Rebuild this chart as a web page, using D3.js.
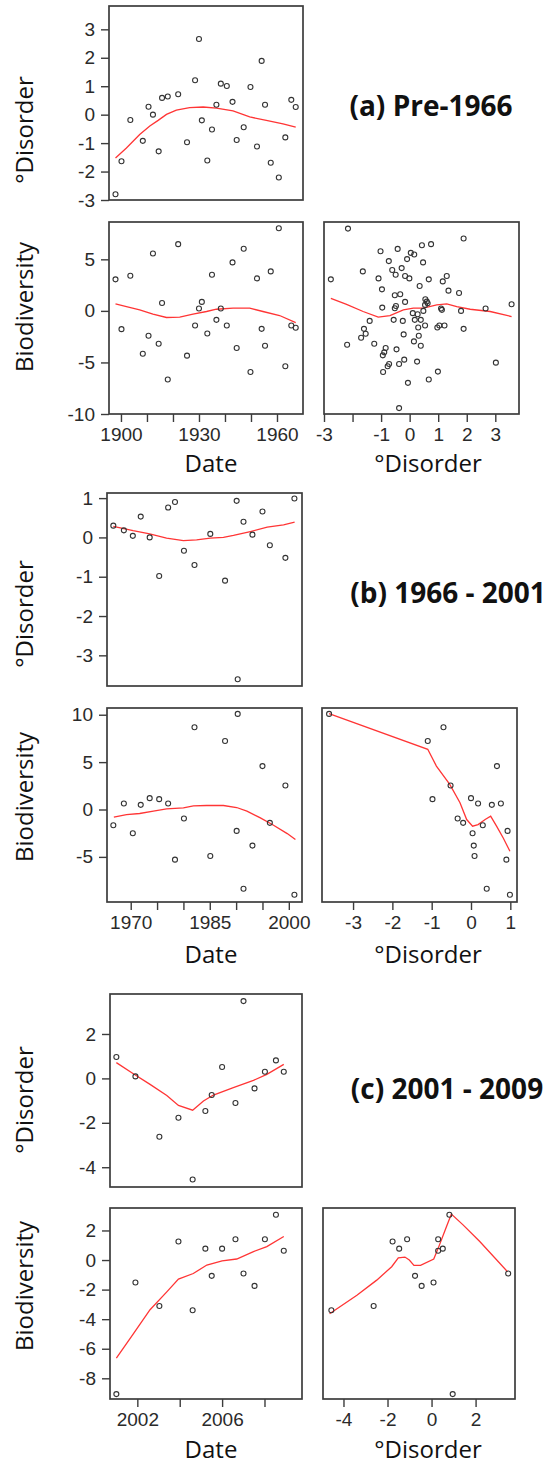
<!DOCTYPE html>
<html>
<head>
<meta charset="utf-8">
<script src="https://cdn.jsdelivr.net/npm/d3@7"></script>
<style>
body { margin: 0; background: #fff; }
svg { display: block; }
.tick text { font-family: "Liberation Sans", Arial, sans-serif; font-size: 19px; fill: #2a2a2a; }
.tick line { stroke: #3c3c3c; stroke-width: 1.4; }
.box { fill: none; stroke: #3c3c3c; stroke-width: 1.7; }
.pt { fill: none; stroke: #333; stroke-width: 1.1; }
.loess { fill: none; stroke: #ff3535; stroke-width: 1.3; }
.alab { font-family: "Open Sans", sans-serif; font-size: 24px; fill: #111; }
.title { font-family: "Open Sans", sans-serif; font-weight: bold; font-size: 28px; fill: #111; }
</style>
</head>
<body>
<div id="chart"></div>
<script>
// (a) Pre-1966
var datesA = [1897.9, 1900.2, 1903.6, 1908.4, 1910.6, 1912.3, 1914.5, 1915.8, 1918.0, 1922.0, 1925.4, 1928.5, 1930.0, 1931.1, 1933.2, 1935.0, 1936.7, 1938.4, 1940.7, 1942.9, 1944.5, 1947.2, 1949.8, 1952.3, 1954.1, 1955.4, 1957.6, 1960.7, 1963.2, 1965.5, 1967.2];
var disorderA = [-2.80, -1.64, -0.19, -0.92, 0.28, 0.00, -1.29, 0.59, 0.64, 0.72, -0.97, 1.21, 2.66, -0.20, -1.61, -0.52, 0.35, 1.09, 1.01, 0.45, -0.89, -0.44, 0.97, -1.12, 1.89, 0.35, -1.69, -2.21, -0.80, 0.52, 0.27];
var bioA = [3.06, -1.77, 3.41, -4.15, -2.41, 5.57, -3.19, 0.77, -6.66, 6.47, -4.34, -1.42, 0.23, 0.87, -2.19, 3.51, -0.87, 0.23, -1.42, 4.70, -3.60, 6.02, -5.92, 3.15, -1.74, -3.38, 3.83, 8.01, -5.37, -1.42, -1.64];
var disorderA2 = [-2.16, -2.76, -2.19, -1.02, -0.42, -0.73, -1.64, -0.61, -0.49, -0.28,
  -1.09, -0.16, -0.01, -0.09, 0.04, 0.16, 0.43, 0.75, 0.47, 1.89,
  0.67, 0.35, 1.16, 1.30, 1.36, 1.73, -0.97, -0.52, -0.33, -0.16,
  -0.96, -0.48, -0.52, -1.40, -0.56, -0.24, 0.11, 0.28, 0.18, 0.39,
  0.30, 0.54, 0.48, 0.55, 0.60, 0.63, 0.54, 1.10, 1.13, 1.80,
  2.66, 3.57, -1.60, -1.54, -1.70, -1.24, -0.21, 0.32, 0.15, 0.39,
  -0.84, -0.89, -0.94, -0.46, -0.19, -0.37, -0.72, -0.77, -0.93, 0.26,
  0.99, 0.67, -0.06, -0.37, 0.97, 1.04, 1.22, 1.89, 3.02];
var bioA2 = [7.98, 3.06, -3.28, 5.79, 6.01, 4.83, 3.83, 3.96, 3.50, 4.15,
  3.15, 3.38, 3.15, 5.02, 5.63, 5.47, 6.37, 6.47, 4.70, 7.02,
  3.06, 2.41, 2.86, 3.38, 1.96, 1.74, 2.09, 1.51, 1.61, 0.87,
  0.32, 0.48, 0.26, -0.97, -0.87, -0.97, -0.22, -0.32, -0.87, -0.87,
  -1.61, -1.42, 0.00, 1.13, 0.90, 0.74, 0.58, 0.23, 0.10, 0.00,
  0.23, 0.64, -1.74, -2.22, -2.61, -3.19, -2.28, -2.41, -2.96, -3.38,
  -3.60, -4.02, -4.31, -3.73, -4.73, -5.15, -5.15, -5.37, -5.92, -4.92,
  -5.89, -6.66, -6.98, -9.43, -1.61, -1.42, -1.42, -1.74, -5.02];
var loessA1 = [[1897.9, -1.52], [1902.1, -1.17], [1907.2, -0.70], [1911.1, -0.40], [1914.3, -0.20], [1917.5, 0.01], [1921.3, 0.16], [1926.4, 0.25], [1931.6, 0.27], [1936.7, 0.23], [1943.1, 0.13], [1949.5, -0.08], [1955.9, -0.20], [1962.3, -0.32], [1967.2, -0.44]];
var loessA2 = [[1897.9, 0.68], [1902.1, 0.42], [1907.2, 0.10], [1912.3, -0.32], [1917.5, -0.64], [1922.6, -0.61], [1927.7, -0.32], [1932.9, -0.06], [1936.7, 0.16], [1943.1, 0.26], [1949.5, 0.26], [1954.6, -0.06], [1961.0, -0.45], [1967.2, -1.13]];
var loessA3 = [[-2.76, 1.22], [-2.21, 0.64], [-1.63, -0.06], [-1.10, -0.61], [-0.69, -0.45], [-0.22, 0.10], [0.13, 0.26], [0.48, 0.26], [0.95, 0.58], [1.30, 0.68], [1.65, 0.42], [2.12, 0.16], [2.82, -0.06], [3.57, -0.55]];

// (b) 1966 - 2001
var datesB = [1966.7, 1968.7, 1970.4, 1971.9, 1973.6, 1975.4, 1977.1, 1978.4, 1980.1, 1982.1, 1985.1, 1987.9, 1990.1, 1990.3, 1991.4, 1993.1, 1995.0, 1996.4, 1999.35, 2001.06];
var disorderB = [0.30, 0.18, 0.04, 0.53, 0.00, -0.98, 0.76, 0.90, -0.34, -0.70, 0.09, -1.10, 0.93, -3.61, 0.40, 0.07, 0.66, -0.20, -0.52, 0.99];
var bioB = [-1.66, 0.63, -2.51, 0.49, 1.20, 1.09, 0.63, -5.29, -0.95, 8.68, -4.90, 7.23, -2.26, 10.09, -8.36, -3.81, 4.58, -1.41, 2.54, -8.99];
var loessB1 = [[1966.7, 0.28], [1970.45, 0.17], [1973.6, 0.09], [1976.8, -0.02], [1980.0, -0.08], [1982.5, -0.06], [1985.1, -0.02], [1987.6, 0.0], [1989.5, 0.05], [1992.7, 0.15], [1995.9, 0.26], [1999.0, 0.32], [2001.1, 0.39]];
var loessB2 = [[1966.8, -0.81], [1969.2, -0.53], [1971.7, -0.42], [1974.3, -0.18], [1976.8, 0.07], [1980.0, 0.18], [1981.9, 0.39], [1984.4, 0.42], [1987.6, 0.42], [1990.1, 0.21], [1992.05, -0.18], [1994.6, -0.88], [1997.1, -1.66], [1999.7, -2.54], [2001.25, -3.17]];
var loessB3 = [[-3.61, 10.12], [-1.10, 6.35], [-0.88, 4.58], [-0.54, 2.65], [-0.28, 0.71], [-0.11, -1.06], [0.04, -1.76], [0.18, -1.59], [0.36, -1.06], [0.50, -0.71], [0.65, -1.76], [0.82, -3.0], [0.99, -4.41]];

// (c) 2001 - 2009
var datesC = [2001.01, 2001.91, 2003.04, 2003.94, 2004.61, 2005.21, 2005.51, 2006.00, 2006.63, 2007.01, 2007.53, 2008.02, 2008.54, 2008.91];
var disorderC = [0.96, 0.09, -2.63, -1.77, -4.55, -1.47, -0.75, 0.51, -1.11, 3.48, -0.45, 0.30, 0.81, 0.30];
var bioC = [-9.07, -1.52, -3.11, 1.25, -3.40, 0.77, -1.07, 0.77, 1.41, -0.91, -1.75, 1.41, 3.06, 0.63];
var loessC1 = [[2001.01, 0.71], [2001.81, 0.21], [2002.60, -0.27], [2003.39, -0.77], [2003.94, -1.22], [2004.61, -1.43], [2005.12, -1.02], [2005.59, -0.75], [2006.53, -0.42], [2007.48, -0.09], [2008.11, 0.18], [2008.91, 0.63]];
var loessC2 = [[2001.01, -6.64], [2001.81, -4.99], [2002.60, -3.36], [2003.39, -2.15], [2003.94, -1.29], [2004.64, -0.91], [2005.28, -0.34], [2006.0, -0.05], [2006.69, 0.07], [2007.48, 0.57], [2008.11, 0.91], [2008.91, 1.59]];
var loessC3 = [[-4.63, -3.63], [-3.39, -2.38], [-2.49, -1.36], [-1.81, -0.45], [-1.51, 0.14], [-1.21, 0.20], [-1.01, 0.0], [-0.80, -0.36], [-0.50, -0.36], [0.10, 0.07], [0.30, 0.79], [0.68, 2.27], [0.90, 3.11], [1.43, 2.38], [2.19, 1.25], [3.45, -0.79]];

// Tick values and labels
var yTicksA1 = [-3, -2, -1, 0, 1, 2, 3];
var yTicksA2 = [-10, -5, 0, 5];
var xTicksA2 = [1900, 1910, 1920, 1930, 1940, 1950, 1960];
var xLabelsA2 = [1900, 1930, 1960];
var xTicksA3 = [-3, -2, -1, 0, 1, 2, 3];
var xLabelsA3 = [-3, -1, 0, 1, 2, 3];
var yTicksB1 = [-3, -2, -1, 0, 1];
var yTicksB2 = [-5, 0, 5, 10];
var xTicksB2 = [1970, 1975, 1980, 1985, 1990, 1995, 2000];
var xLabelsB2 = [1970, 1985, 2000];
var xTicksB3 = [-3, -2, -1, 0, 1];
var yTicksC1 = [-4, -2, 0, 2];
var yTicksC2 = [-8, -6, -4, -2, 0, 2];
var xTicksC2 = [2002, 2004, 2006, 2008];
var xLabelsC2 = [2002, 2006];
var xTicksC3 = [-4, -2, 0, 2];

var svg = d3.select("#chart").append("svg")
  .attr("width", 555)
  .attr("height", 1464);

function zip(a, b) {
  return a.map((d, i) => [d, b[i]]);
}

// Draw one scatter panel with box, points, loess line and axes
function drawPanel(p) {
  var x = d3.scaleLinear().domain(p.xd).range([p.x0, p.x1]);
  var y = d3.scaleLinear().domain(p.yd).range([p.y1, p.y0]);
  var g = svg.append("g");

  if (p.yTicks) {
    g.append("g")
      .attr("transform", `translate(${p.x0},0)`)
      .call(d3.axisLeft(y).tickValues(p.yTicks).tickSize(8).tickPadding(6).tickFormat(d => d))
      .call(a => a.select(".domain").remove());
  }
  if (p.xTicks) {
    var labs = p.xLabels || p.xTicks;
    g.append("g")
      .attr("transform", `translate(0,${p.y1})`)
      .call(d3.axisBottom(x).tickValues(p.xTicks).tickSize(8).tickPadding(6)
        .tickFormat(d => labs.indexOf(d) >= 0 ? d : ""))
      .call(a => a.select(".domain").remove());
  }

  g.append("rect")
    .attr("class", "box")
    .attr("x", p.x0).attr("y", p.y0)
    .attr("width", p.x1 - p.x0).attr("height", p.y1 - p.y0);

  g.append("path")
    .datum(p.loess)
    .attr("class", "loess")
    .attr("d", d3.line().x(d => x(d[0])).y(d => y(d[1])));

  g.selectAll(".pt")
    .data(p.points)
    .enter()
    .append("circle")
    .attr("class", "pt")
    .attr("cx", d => x(d[0]))
    .attr("cy", d => y(d[1]))
    .attr("r", 2.5);
}

// Section (a)
drawPanel({x0: 109, x1: 303, y0: 6, y1: 200, xd: [1895.4, 1970], yd: [-3, 3.82],
  points: zip(datesA, disorderA), loess: loessA1, yTicks: yTicksA1});
drawPanel({x0: 109, x1: 303, y0: 222, y1: 414, xd: [1895.4, 1970], yd: [-10, 8.62],
  points: zip(datesA, bioA), loess: loessA2, yTicks: yTicksA2, xTicks: xTicksA2, xLabels: xLabelsA2});
drawPanel({x0: 324, x1: 519, y0: 222, y1: 414, xd: [-3, 3.83], yd: [-10, 8.62],
  points: zip(disorderA2, bioA2), loess: loessA3, xTicks: xTicksA3, xLabels: xLabelsA3});

// Section (b)
drawPanel({x0: 107, x1: 302, y0: 493, y1: 686, xd: [1965.5, 2002.5], yd: [-3.78, 1.13],
  points: zip(datesB, disorderB), loess: loessB1, yTicks: yTicksB1});
drawPanel({x0: 107, x1: 302, y0: 708, y1: 902, xd: [1965.5, 2002.5], yd: [-9.76, 10.71],
  points: zip(datesB, bioB), loess: loessB2, yTicks: yTicksB2, xTicks: xTicksB2, xLabels: xLabelsB2});
drawPanel({x0: 322, x1: 517, y0: 708, y1: 902, xd: [-3.79, 1.17], yd: [-9.76, 10.71],
  points: zip(disorderB, bioB), loess: loessB3, xTicks: xTicksB3});

// Section (c)
drawPanel({x0: 110, x1: 302, y0: 994, y1: 1187, xd: [2000.71, 2009.77], yd: [-4.89, 3.8],
  points: zip(datesC, disorderC), loess: loessC1, yTicks: yTicksC1});
drawPanel({x0: 110, x1: 302, y0: 1208, y1: 1399, xd: [2000.71, 2009.77], yd: [-9.4, 3.52],
  points: zip(datesC, bioC), loess: loessC2, yTicks: yTicksC2, xTicks: xTicksC2, xLabels: xLabelsC2});
drawPanel({x0: 323, x1: 515, y0: 1208, y1: 1399, xd: [-4.93, 3.79], yd: [-9.4, 3.52],
  points: zip(disorderC, bioC), loess: loessC3, xTicks: xTicksC3});

// Axis labels
var yLabs = [["°Disorder", 130], ["Biodiversity", 307], ["°Disorder", 614], ["Biodiversity", 797], ["°Disorder", 1100], ["Biodiversity", 1286]];
yLabs.forEach(function(l) {
  svg.append("text")
    .attr("class", "alab")
    .attr("text-anchor", "middle")
    .attr("transform", `translate(33,${l[1]}) rotate(-90)`)
    .text(l[0]);
});
[472, 963, 1458].forEach(function(yy) {
  svg.append("text").attr("class", "alab").attr("text-anchor", "middle")
    .attr("x", 211).attr("y", yy).text("Date");
  svg.append("text").attr("class", "alab").attr("text-anchor", "middle")
    .attr("x", 428).attr("y", yy).text("°Disorder");
});

// Section titles
var titles = [["(a) Pre-1966", 431, 116], ["(b) 1966 - 2001", 448, 603], ["(c) 2001 - 2009", 447, 1099]];
titles.forEach(function(t) {
  svg.append("text")
    .attr("class", "title")
    .attr("text-anchor", "middle")
    .attr("x", t[1]).attr("y", t[2])
    .text(t[0]);
});
</script>
</body>
</html>
